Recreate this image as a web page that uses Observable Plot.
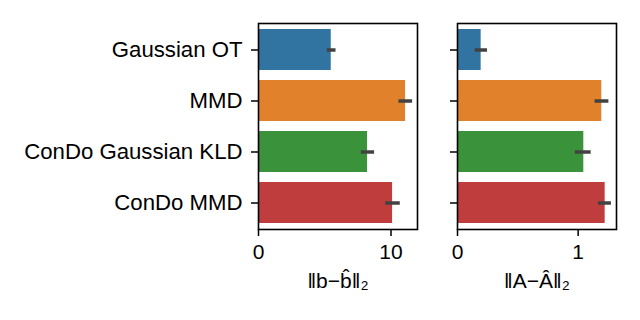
<!DOCTYPE html>
<html><head><meta charset="utf-8">
<script src="https://cdn.jsdelivr.net/npm/d3@7"></script>
<script src="https://cdn.jsdelivr.net/npm/@observablehq/plot@0.6"></script>
<style>
body{margin:0;background:#fff;}
#wrap{position:relative;width:640px;height:320px;font-family:"Liberation Sans",Arial,sans-serif;}
#wrap svg{position:absolute;top:0;}
</style></head><body>
<div id="wrap"></div>
<script>
const methods = ["Gaussian OT", "MMD", "ConDo Gaussian KLD", "ConDo MMD"];
const colors = ["#3274a1", "#e1812c", "#3a923a", "#c03d3e"];
// ||b - b̂||_2
const bMean = [5.49, 11.1, 8.23, 10.12];
const bLo = [5.19, 10.6, 7.76, 9.6];
const bHi = [5.85, 11.63, 8.76, 10.7];
// ||A - Â||_2
const aMean = [0.196, 1.196, 1.047, 1.224];
const aLo = [0.146, 1.14, 0.976, 1.168];
const aHi = [0.249, 1.255, 1.108, 1.276];
const bTicks = [0, 10];
const aTicks = [0, 1];

const bData = methods.map((m, i) => ({m, v: bMean[i], lo: bLo[i], hi: bHi[i]}));
const aData = methods.map((m, i) => ({m, v: aMean[i], lo: aLo[i], hi: aHi[i]}));

function panel(data, xmax, ticks, label, showLabels, width, ml, mr) {
  return Plot.plot({
    width, height: 320,
    marginLeft: ml, marginRight: mr, marginTop: 23, marginBottom: 91,
    style: {fontFamily: '"Liberation Sans", Arial, sans-serif', fontSize: "21px", color: "black", background: "white"},
    x: {domain: [0, xmax]},
    y: {domain: methods, paddingInner: 0.2, paddingOuter: 0.1},
    color: {domain: methods, range: colors},
    marks: [
      Plot.barX(data, {y: "m", x: "v", fill: "m"}),
      Plot.ruleY(data, {y: "m", x1: "lo", x2: "hi", stroke: "#424242", strokeWidth: 3.5}),
      Plot.axisY({tickSize: 7, tickPadding: 9, strokeWidth: 1.5, label: null,
        tickFormat: showLabels ? (d => d) : (() => ""), fontSize: 22.2}),
      Plot.axisX({ticks, tickSize: 7, tickPadding: 8, strokeWidth: 1.5, fontSize: 21,
        tickFormat: d => String(d),
        label, labelAnchor: "center", labelArrow: "none", labelOffset: 58}),
      Plot.frame({stroke: "black", strokeWidth: 1.6})
    ]
  });
}

const wrap = document.getElementById("wrap");
const p1 = panel(bData, 12.0, bTicks, "‖b−b̂‖₂", true, 430, 258, 13);
p1.style.left = "0px";
const p2 = panel(aData, 1.318, aTicks, "‖A−Â‖₂", false, 210, 27, 24);
p2.style.left = "430px";
wrap.appendChild(p1);
wrap.appendChild(p2);
</script>
</body></html>
